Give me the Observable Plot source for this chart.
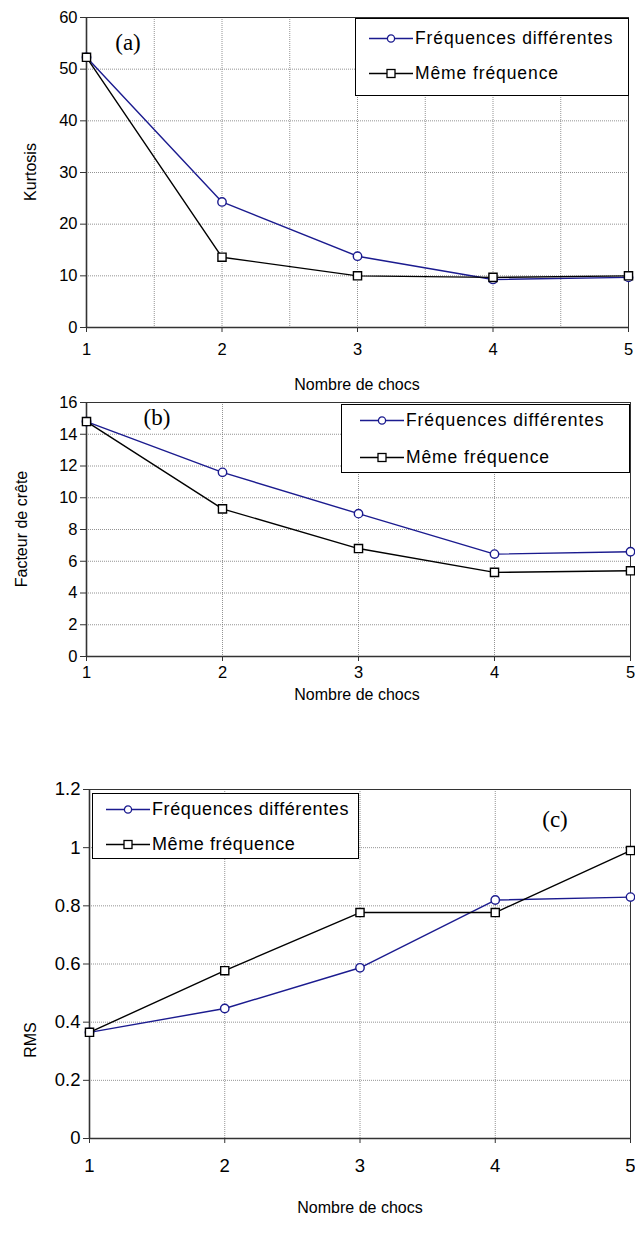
<!DOCTYPE html>
<html>
<head>
<meta charset="utf-8">
<script src="https://cdn.jsdelivr.net/npm/d3@7"></script>
<script src="https://cdn.jsdelivr.net/npm/@observablehq/plot@0.6"></script>
<style>
  body { margin: 0; background: #fff; font-family: "Liberation Sans", Arial, sans-serif; }
  #root { position: relative; width: 635px; height: 1245px; overflow: hidden; }
  .panel { position: absolute; left: 0; }
  .ylab { position: absolute; transform: translate(-50%, -50%) rotate(-90deg); font-size: 16px; white-space: nowrap; }
  .xlab { position: absolute; transform: translate(-50%, -50%); font-size: 16px; white-space: nowrap; }
  .letter { position: absolute; transform: translate(-50%, -50%); font-family: "Liberation Serif", "Times New Roman", serif; font-size: 23px; }
  .legend { position: absolute; border: 1px solid #000; background: #fff; box-sizing: border-box; }
  .legend .row { position: absolute; left: 0; display: flex; align-items: center; font-size: 17.5px; letter-spacing: 0.9px; transform: translateY(-50%); white-space: nowrap; }
</style>
</head>
<body>
<div id="root"></div>
<script>
// ---- data ----
const chocs = [1, 2, 3, 4, 5];
const seriesNames = ["Fréquences différentes", "Même fréquence"];

const kurtosisDiff = [52.3, 24.3, 13.8, 9.3, 9.7];
const kurtosisSame = [52.3, 13.6, 10.0, 9.7, 10.0];
const kurtosisTicks = [0, 10, 20, 30, 40, 50, 60];

const creteDiff = [14.8, 11.6, 9.0, 6.45, 6.6];
const creteSame = [14.8, 9.3, 6.8, 5.3, 5.4];
const creteTicks = [0, 2, 4, 6, 8, 10, 12, 14, 16];

const rmsDiff = [0.365, 0.447, 0.587, 0.82, 0.83];
const rmsSame = [0.365, 0.577, 0.777, 0.777, 0.99];
const rmsTicks = [0, 0.2, 0.4, 0.6, 0.8, 1, 1.2];

const xLabel = "Nombre de chocs";
const yLabels = ["Kurtosis", "Facteur de crête", "RMS"];
const panelLetters = ["(a)", "(b)", "(c)"];

const blue = "#1b1b8f";
const black = "#000";

const root = document.getElementById("root");

function makePanel(cfg) {
  const rows = [];
  chocs.forEach((c, i) => rows.push({x: c, y: cfg.diff[i], s: seriesNames[0]}));
  chocs.forEach((c, i) => rows.push({x: c, y: cfg.same[i], s: seriesNames[1]}));
  const diffRows = rows.filter(d => d.s === seriesNames[0]);
  const sameRows = rows.filter(d => d.s === seriesNames[1]);
  const yMax = cfg.ticks[cfg.ticks.length - 1];
  const xGridValues = cfg.halfGrid ? d3.range(1, 5.01, 0.5) : chocs;
  const fs = cfg.tickFont;

  const plot = Plot.plot({
    width: 635,
    height: cfg.height,
    marginTop: cfg.marginTop,
    marginBottom: cfg.marginBottom,
    marginLeft: cfg.marginLeft,
    marginRight: cfg.marginRight,
    style: {fontFamily: "'Liberation Sans', Arial, sans-serif", fontSize: fs + "px", color: "#000", background: "#fff", overflow: "visible"},
    x: {domain: [1, 5], label: null},
    y: {domain: [0, yMax], label: null},
    marks: [
      Plot.gridX(xGridValues, {stroke: "#777", strokeOpacity: 1, strokeWidth: 0.8, strokeDasharray: "1,1"}),
      Plot.gridY(cfg.ticks, {stroke: "#777", strokeOpacity: 1, strokeWidth: 0.8, strokeDasharray: "1,1"}),
      Plot.frame({stroke: "#333", strokeWidth: 1}),
      Plot.ruleX([1], {stroke: "#333", strokeWidth: 1.6}),
      Plot.ruleY([0], {stroke: "#333", strokeWidth: 1.6}),
      Plot.axisX({ticks: chocs, tickSize: 5, tickPadding: cfg.xPad, tickFormat: d => String(d), label: null, stroke: "#333", fill: "#000", fontSize: fs}),
      Plot.axisY({ticks: cfg.ticks, tickSize: 6, tickPadding: 3, tickFormat: d => String(d), label: null, stroke: "#333", fill: "#000", fontSize: fs}),
      Plot.line(diffRows, {x: "x", y: "y", stroke: blue, strokeWidth: 1.4}),
      Plot.line(sameRows, {x: "x", y: "y", stroke: black, strokeWidth: 1.4}),
      Plot.dot(diffRows, {x: "x", y: "y", r: 4.2, symbol: "circle", stroke: blue, fill: "#fff", strokeWidth: 1.4}),
      Plot.dot(sameRows, {x: "x", y: "y", r: 4.6, symbol: "square", stroke: black, fill: "#fff", strokeWidth: 1.4})
    ]
  });
  plot.querySelectorAll("text").forEach(t => { t.setAttribute("font-size", fs); t.style.fontSize = fs + "px"; });
  const wrap = document.createElement("div");
  wrap.className = "panel";
  wrap.style.top = cfg.top + "px";
  wrap.appendChild(plot);
  root.appendChild(wrap);

  const yl = document.createElement("div");
  yl.className = "ylab"; yl.textContent = cfg.yLabel;
  yl.style.left = cfg.yLabelPos[0] + "px"; yl.style.top = cfg.yLabelPos[1] + "px";
  root.appendChild(yl);
  const xl = document.createElement("div");
  xl.className = "xlab"; xl.textContent = xLabel;
  xl.style.left = cfg.xLabelPos[0] + "px"; xl.style.top = cfg.xLabelPos[1] + "px";
  root.appendChild(xl);
  const lt = document.createElement("div");
  lt.className = "letter"; lt.textContent = cfg.letter;
  lt.style.left = cfg.letterPos[0] + "px"; lt.style.top = cfg.letterPos[1] + "px";
  root.appendChild(lt);

  const lg = document.createElement("div");
  lg.className = "legend";
  const [lx, ly, lw, lh] = cfg.legendBox;
  lg.style.left = lx + "px"; lg.style.top = ly + "px"; lg.style.width = lw + "px"; lg.style.height = lh + "px";
  const sw = [
    `<svg width="46" height="12"><line x1="1" y1="6" x2="45" y2="6" stroke="${blue}" stroke-width="1.4"/><circle cx="23" cy="6" r="3.6" fill="#fff" stroke="${blue}" stroke-width="1.3"/></svg>`,
    `<svg width="46" height="12"><line x1="1" y1="6" x2="45" y2="6" stroke="${black}" stroke-width="1.4"/><rect x="19" y="2" width="8" height="8" fill="#fff" stroke="${black}" stroke-width="1.3"/></svg>`
  ];
  seriesNames.forEach((name, i) => {
    const r = document.createElement("div");
    r.className = "row";
    r.style.top = cfg.legendRows[i] + "px";
    r.style.left = cfg.legendIndent + "px";
    r.style.fontSize = cfg.legendFont + "px";
    r.style.letterSpacing = cfg.legendSpacing + "px";
    r.innerHTML = sw[i] + `<span style="margin-left:1px">${name}</span>`;
    lg.appendChild(r);
  });
  root.appendChild(lg);
}

makePanel({
  diff: kurtosisDiff, same: kurtosisSame, ticks: kurtosisTicks, halfGrid: true, tickFont: 16.5,
  top: 0, height: 390, marginTop: 17, marginBottom: 63, marginLeft: 86, marginRight: 7, xPad: 11,
  yLabel: yLabels[0], yLabelPos: [31, 172], xLabelPos: [357, 385],
  letter: panelLetters[0], letterPos: [128, 43],
  legendBox: [355, 18, 274, 78], legendRows: [19, 54], legendIndent: 12, legendFont: 17.5, legendSpacing: 0.9
});
makePanel({
  diff: creteDiff, same: creteSame, ticks: creteTicks, halfGrid: false, tickFont: 16.5,
  top: 390, height: 320, marginTop: 12, marginBottom: 54, marginLeft: 86, marginRight: 5, xPad: 5,
  yLabel: yLabels[1], yLabelPos: [22, 529], xLabelPos: [357, 695],
  letter: panelLetters[1], letterPos: [157, 418],
  legendBox: [341, 404, 289, 69], legendRows: [15, 52], legendIndent: 17, legendFont: 17.5, legendSpacing: 0.9
});
makePanel({
  diff: rmsDiff, same: rmsSame, ticks: rmsTicks, halfGrid: false, tickFont: 18.5,
  top: 710, height: 535, marginTop: 79, marginBottom: 107, marginLeft: 89, marginRight: 5, xPad: 15,
  yLabel: yLabels[2], yLabelPos: [31, 1040], xLabelPos: [360, 1208],
  letter: panelLetters[2], letterPos: [555, 820],
  legendBox: [92, 793, 267, 66], legendRows: [15, 50], legendIndent: 12, legendFont: 18, legendSpacing: 0.6
});
</script>
</body>
</html>
